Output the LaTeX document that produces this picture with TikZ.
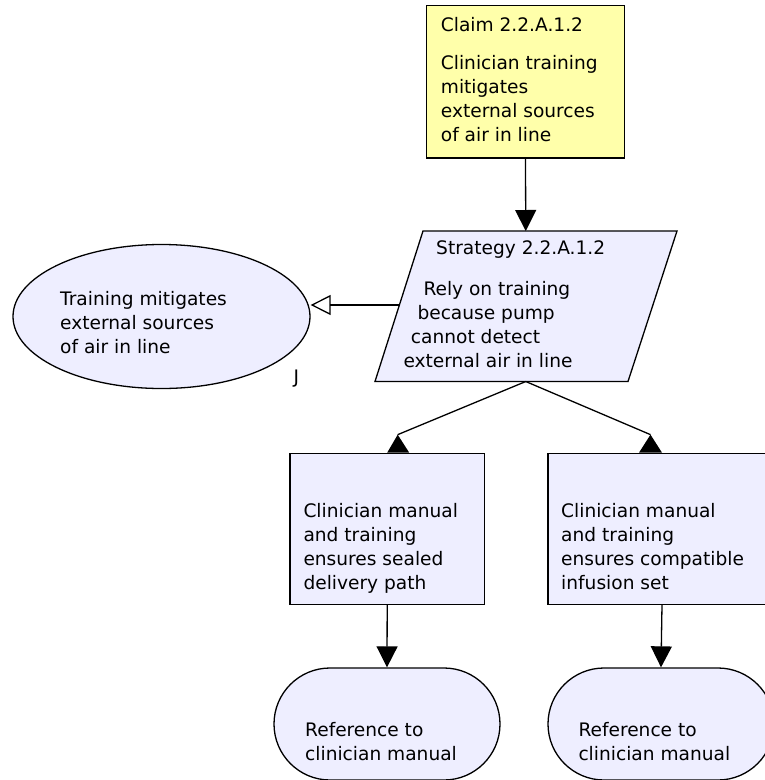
\documentclass[tikz,border=0pt]{standalone}
\usepackage{fontspec}
\setmainfont{DejaVu Sans}
\usetikzlibrary{arrows.meta,shapes.geometric,calc}
\definecolor{claimfill}{RGB}{255,255,170}
\definecolor{nodefill}{RGB}{238,238,255}
\tikzset{
  lbl/.style={font=\fontsize{18.6}{24}\selectfont, inner sep=0pt, anchor=base west, align=left},
  shp/.style={draw=black, line width=1.3pt},
  claimbox/.style={shp, fill=claimfill, rectangle, inner sep=0pt, minimum width=197.6pt, minimum height=152.7pt},
  goalbox/.style={shp, fill=nodefill, rectangle, inner sep=0pt, minimum height=151pt},
  ctxshape/.style={shp, fill=nodefill, ellipse, inner sep=0pt, minimum width=297pt, minimum height=144pt},
  termshape/.style={shp, fill=nodefill, rectangle, rounded corners=56pt, inner sep=0pt, minimum width=226pt, minimum height=112pt},
  conn/.style={line width=1.3pt},
  solidtip/.style={-{Triangle[width=21pt,length=21pt]}},
  opentip/.style={-{Triangle[open,width=20pt,length=20pt]}},
}
\begin{document}
\begin{tikzpicture}[x=1pt,y=-1pt]
\useasboundingbox (0,0) rectangle (765,780);
\clip (0,0) rectangle (765,780);

% claim (multi-line labels are anchored at the baseline of their last line)
\node[claimbox] (claim) at (525.5,81.5) {};
\node[lbl] (claimid) at (440.7,31) {Claim 2.2.A.1.2};
\node[lbl] (claimtxt) at (440.7,141) {Clinician training\\mitigates\\external sources\\of air in line};

% strategy (parallelogram)
\draw[shp, fill=nodefill] (423,231) -- (677,231) -- (628,381.5) -- (375,381.5) -- cycle;
\coordinate (stratN) at (525.75,231);
\coordinate (stratS) at (525.75,381.5);
\coordinate (stratW) at (399,305);
\node[lbl] (stratid) at (436,254) {Strategy 2.2.A.1.2};
\node[lbl] (stratl1) at (423.3,295) {Rely on training};
\node[lbl] (stratl2) at (417.3,319) {because pump};
\node[lbl] (stratl3) at (410.7,343) {cannot detect};
\node[lbl] (stratl4) at (403.3,367) {external air in line};

% justification
\node[ctxshape] (just) at (161.5,316.5) {};
\node[lbl] (justtxt) at (60,353) {Training mitigates\\external sources\\of air in line};
\node[lbl] (justmark) at (293.3,383.3) {J};

% sub-claims
\node[goalbox, minimum width=194.3pt] (boxL) at (387.2,528.8) {};
\node[lbl] (boxLtxt) at (303.3,589.3) {Clinician manual\\and training\\ensures sealed\\delivery path};
\node[goalbox, minimum width=228pt] (boxR) at (662,528.8) {};
\node[lbl] (boxRtxt) at (561,589.3) {Clinician manual\\and training\\ensures compatible\\infusion set};

% evidence
\node[termshape] (termL) at (387,724) {};
\node[lbl] (termLtxt) at (305,760.7) {Reference to\\clinician manual};
\node[termshape] (termR) at (661,724) {};
\node[lbl] (termRtxt) at (578.3,760.7) {Reference to\\clinician manual};

% connectors
\draw[conn, solidtip] (claim.south) -- (stratN);
\draw[conn, opentip] (stratW) -- (stratW -| just.east);
\coordinate (tipL) at ($(boxL.north)+(10.5,-18)$);
\coordinate (tipR) at ($(boxR.north)+(-11.5,-18)$);
\draw[conn] (stratS) -- (tipL);
\draw[conn] (stratS) -- (tipR);
\fill (boxL.north) -- ++(22,0) -- (tipL) -- cycle;
\fill (boxR.north) -- ++(-23,0) -- (tipR) -- cycle;
\draw[conn, solidtip] (boxL.south) -- (termL.north);
\draw[conn, solidtip] (boxR.south) -- (termR.north);
\end{tikzpicture}
\end{document}
